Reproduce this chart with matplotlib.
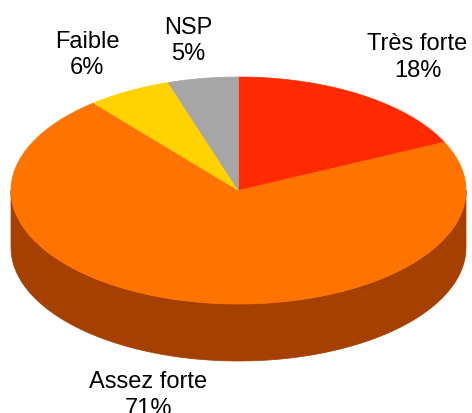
import numpy as np
import matplotlib.pyplot as plt
from matplotlib.patches import Polygon

plt.rcParams['font.family'] = ['Liberation Sans', 'DejaVu Sans']

# data
labels = ["Très forte", "Assez forte", "Faible", "NSP"]
values = [18, 71, 6, 5]
top_colors = ["#FF2A00", "#FF7300", "#FFD200", "#A6A6A6"]
side_colors = ["#A61B00", "#A64000", "#A68800", "#6C6C6C"]

# pie geometry in pixel coords
cx, cy = 238.5, 191.5
rx, ry = 227.5, 113.5
depth = 57

# label baseline positions (pixels): name line, percent line 27px lower
label_pos = [(417.5, 50), (148, 388), (87, 47.5), (188, 33.5)]
line_gap = 27


def ell(t, dy=0.0):
    t = np.radians(t)
    return np.column_stack([cx + rx * np.cos(t), cy - ry * np.sin(t) + dy])


fig = plt.figure(figsize=(4.72, 4.14), dpi=100)
ax = fig.add_axes([0, 0, 1, 1])
ax.set_xlim(0, 472)
ax.set_ylim(414, 0)
ax.axis("off")

total = sum(values)
cum = np.cumsum([0] + values) / total
starts = 90 - 360 * cum[:-1]
ends = 90 - 360 * cum[1:]

# side walls (front half only)
for a0, a1, col in zip(starts, ends, side_colors):
    for lo, hi in [(-180, 0), (-540, -360), (180, 360)]:
        s, e = max(a1, lo), min(a0, hi)
        if e <= s:
            continue
        t = np.linspace(s, e, 200)
        pts = np.vstack([ell(t), ell(t[::-1], depth)])
        ax.add_patch(Polygon(pts, closed=True, fc=col, ec=col, lw=0.5))

# top faces
for a0, a1, col in zip(starts, ends, top_colors):
    t = np.linspace(a0, a1, 300)
    pts = np.vstack([[cx, cy], ell(t)])
    ax.add_patch(Polygon(pts, closed=True, fc=col, ec=col, lw=0.5))

for lab, v, (x, y) in zip(labels, values, label_pos):
    ax.text(x, y, lab, ha="center", va="baseline", fontsize=17, color="black")
    ax.text(x, y + line_gap, f"{v}%", ha="center", va="baseline",
            fontsize=17, color="black")

fig.savefig("out.png", dpi=100)
